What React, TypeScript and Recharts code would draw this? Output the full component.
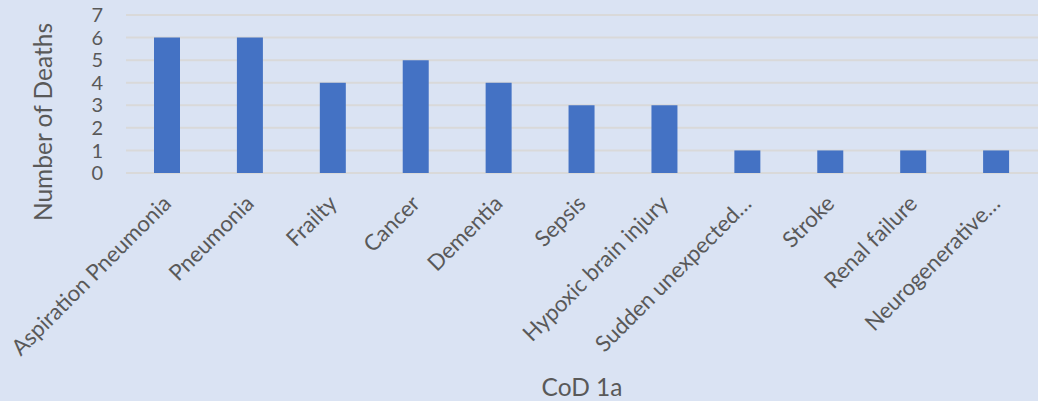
import { BarChart, Bar, XAxis, YAxis, CartesianGrid } from 'recharts';

const CAUSES = [
  'Aspiration Pneumonia',
  'Pneumonia',
  'Frailty',
  'Cancer',
  'Dementia',
  'Sepsis',
  'Hypoxic brain injury',
  'Sudden unexpected…',
  'Stroke',
  'Renal failure',
  'Neurogenerative…',
];

const DEATHS = [6, 6, 4, 5, 4, 3, 3, 1, 1, 1, 1];

const Y_TICKS = [0, 1, 2, 3, 4, 5, 6, 7];

const TEXT_COLOR = '#595959';
const FONT = 'Lato, "Open Sans", sans-serif';

const chartData = CAUSES.map((cause, i) => ({ cause, deaths: DEATHS[i] }));

// slanted category label, anchored at its end just below the bar
function CauseTick({ x, y, payload }: { x?: number; y?: number; payload?: { value: string } }) {
  return (
    <text
      transform={`translate(${(x ?? 0) + 5}, ${(y ?? 0) + 32}) rotate(-45)`}
      textAnchor="end"
      fill={TEXT_COLOR}
      fontSize={22.2}
      fontFamily={FONT}
    >
      {payload?.value}
    </text>
  );
}

export default function App() {
  return (
    <div style={{ position: 'absolute', left: 0, top: 0, width: 1038, height: 401, background: '#dae3f3' }}>
      <BarChart
        width={1038}
        height={401}
        data={chartData}
        margin={{ top: 15, right: 0, bottom: 0, left: 0 }}
        barCategoryGap={0}
      >
        <CartesianGrid vertical={false} stroke="#d9d9d9" strokeWidth={2} />
        <XAxis
          dataKey="cause"
          interval={0}
          height={228}
          axisLine={false}
          tickLine={false}
          tickSize={0}
          tickMargin={0}
          tick={<CauseTick />}
        />
        <YAxis
          width={126}
          domain={[0, 7]}
          ticks={Y_TICKS}
          interval={0}
          axisLine={false}
          tickLine={false}
          tickSize={0}
          tickMargin={23}
          tick={{ fill: TEXT_COLOR, fontSize: 20, fontFamily: FONT }}
        />
        <Bar dataKey="deaths" fill="#4472c4" barSize={26} isAnimationActive={false} />
        <text
          transform="translate(52, 122) rotate(-90)"
          textAnchor="middle"
          fill={TEXT_COLOR}
          fontSize={24.5}
          fontFamily={FONT}
        >
          Number of Deaths
        </text>
        <text x={582} y={396} textAnchor="middle" fill={TEXT_COLOR} fontSize={24.5} fontFamily={FONT}>
          CoD 1a
        </text>
      </BarChart>
    </div>
  );
}
